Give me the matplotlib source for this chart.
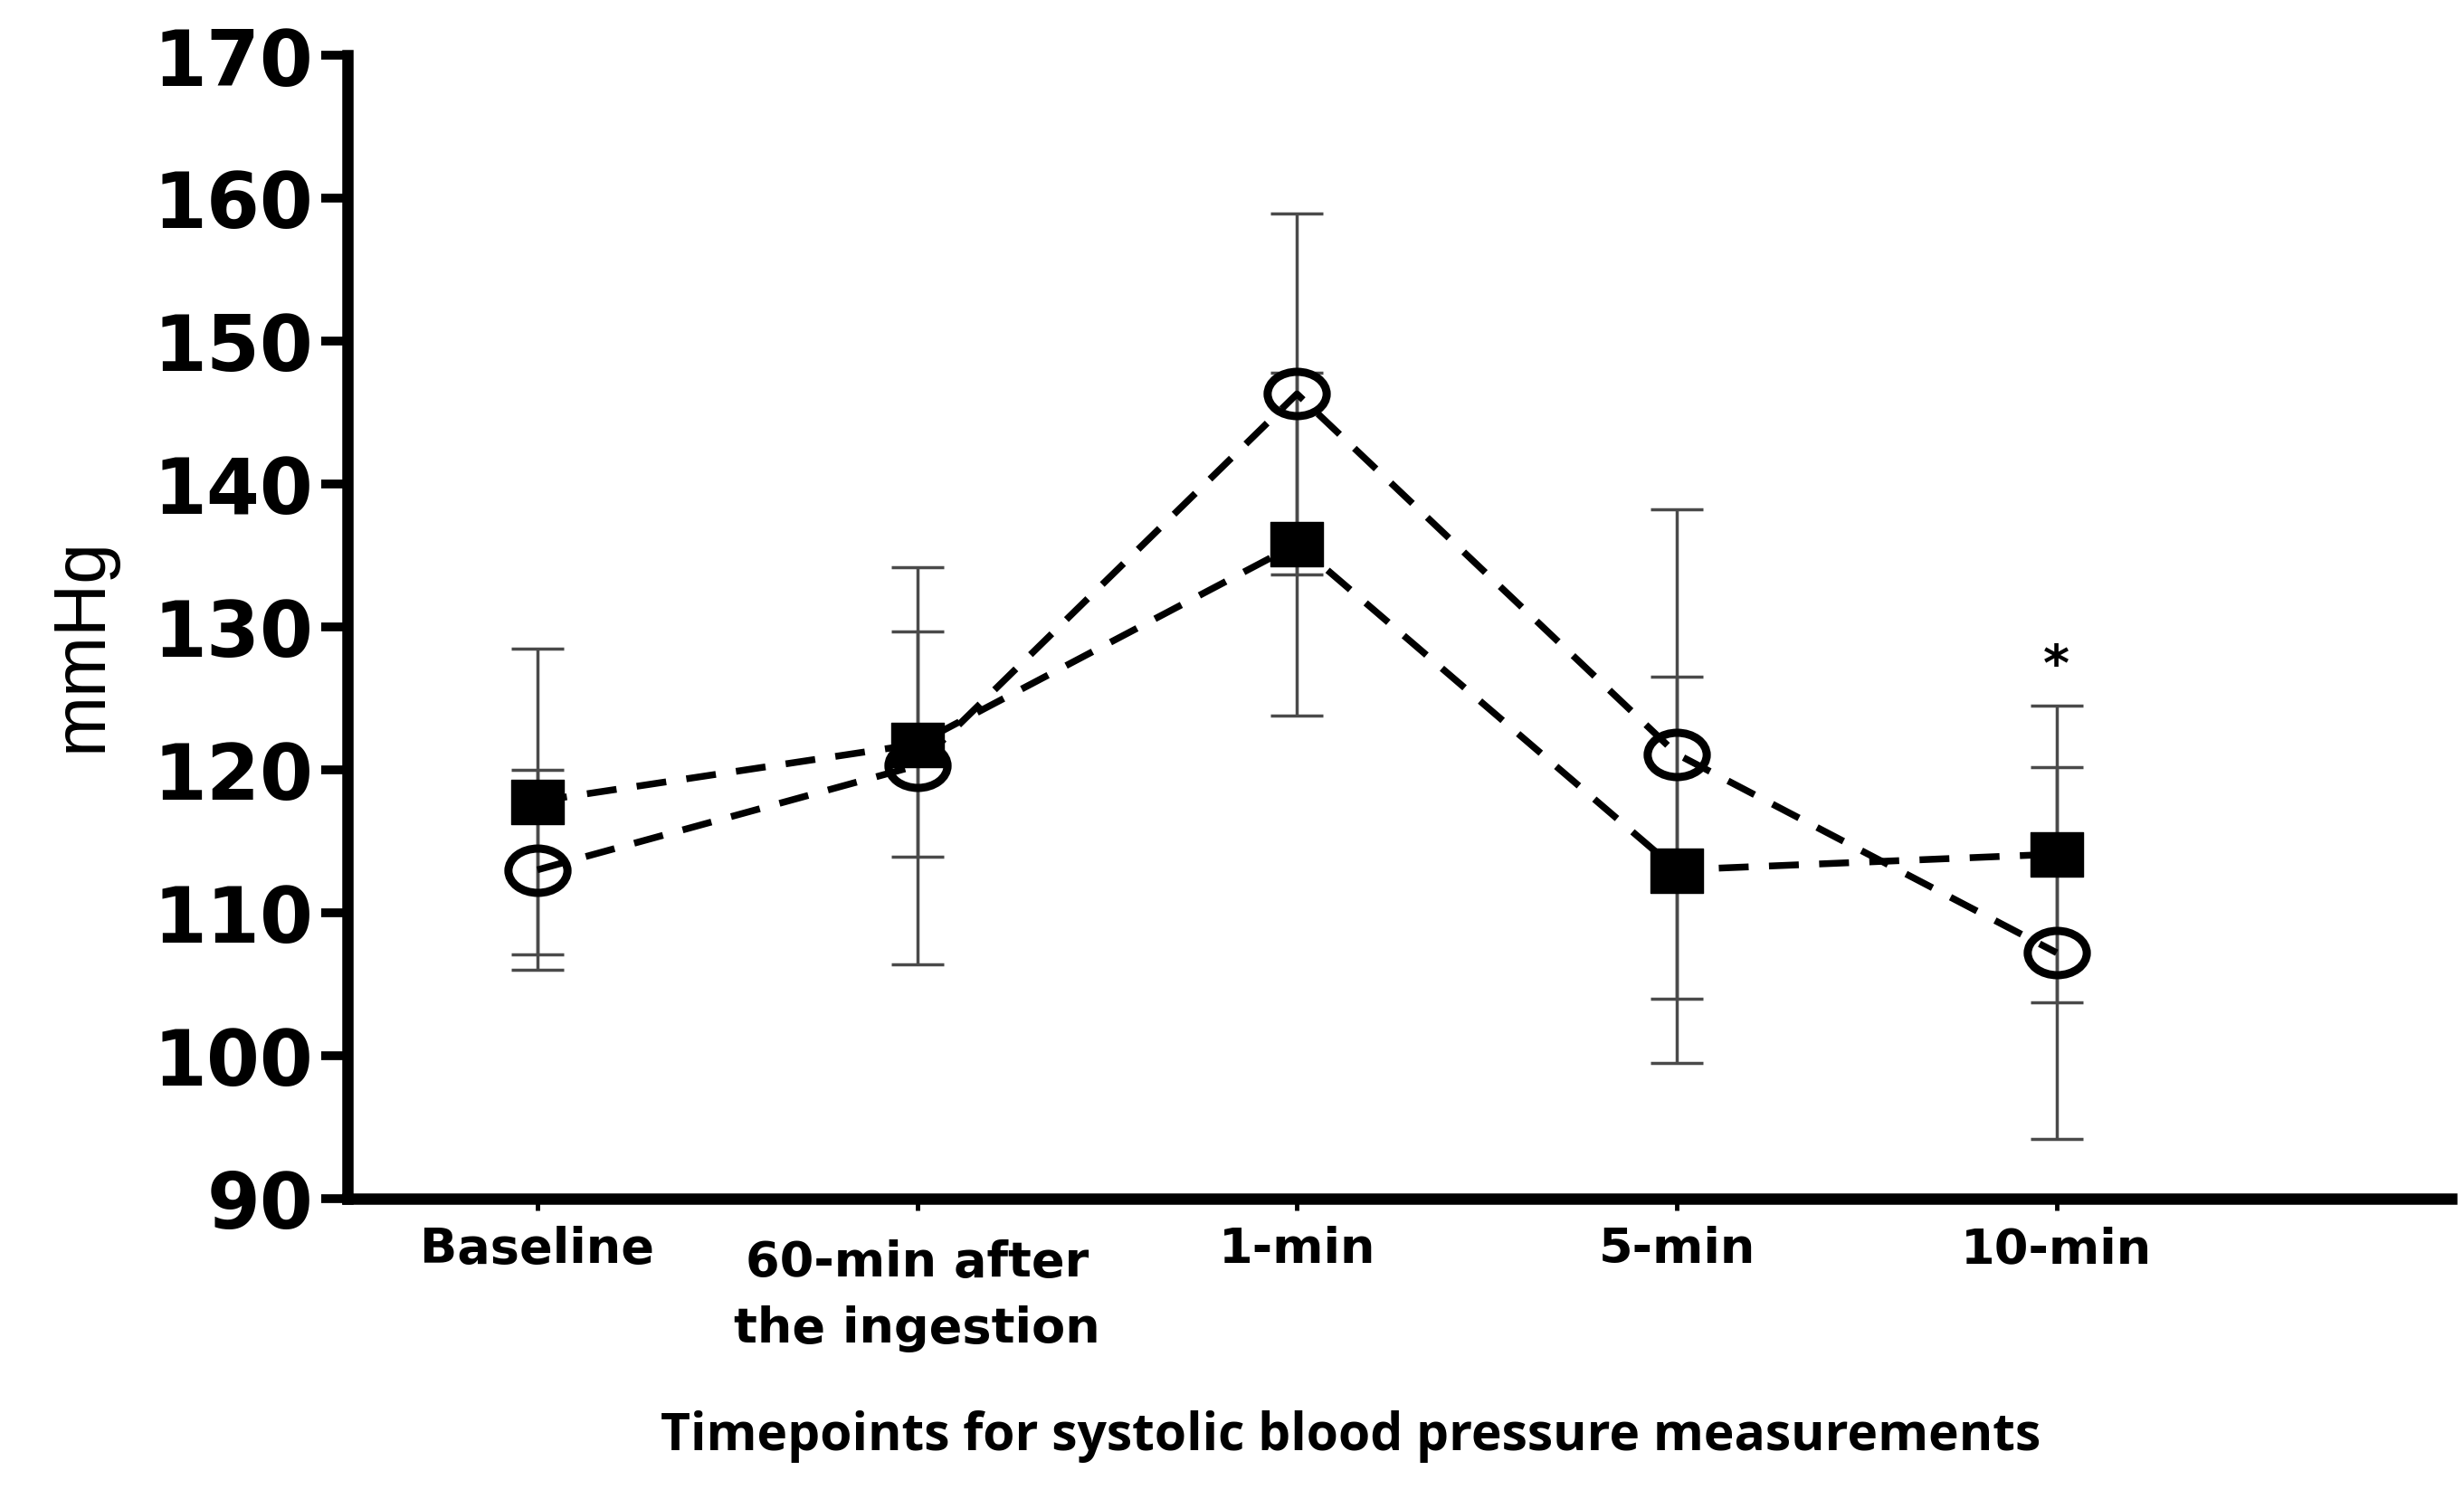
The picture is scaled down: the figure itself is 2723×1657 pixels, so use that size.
import numpy as np
import matplotlib
matplotlib.use('Agg')
import matplotlib.pyplot as plt
from matplotlib.path import Path
from matplotlib.transforms import Affine2D

# values (mean and SD, mmHg)
timepoints = ['Baseline', '60-min after\nthe ingestion', '1-min', '5-min', '10-min']
filled_mean = [117.8, 121.8, 135.8, 113.0, 114.1]
filled_sd = [10.7, 7.9, 12.0, 13.5, 10.4]
open_mean = [113.0, 120.3, 146.3, 121.1, 107.2]
open_sd = [7.0, 13.9, 12.6, 17.1, 13.0]
star_idx = 4
star_y = 126.3
yticks = [90, 100, 110, 120, 130, 140, 150, 160, 170]

# markers in the source are a bit wider than tall
sq_marker = Path([(-1, -0.84), (1, -0.84), (1, 0.84), (-1, 0.84), (-1, -0.84)],
                 [Path.MOVETO, Path.LINETO, Path.LINETO, Path.LINETO, Path.CLOSEPOLY])
circ_marker = Path.unit_circle().transformed(Affine2D().scale(1, 0.75))

fig = plt.figure(figsize=(27.23, 16.58), dpi=100)
ax = fig.add_axes([0.141, 0.2003, 0.854, 0.7623])
x = np.arange(len(timepoints))

err_kw = dict(fmt='none', ecolor='#4a4a4a', elinewidth=2.5, capsize=21, capthick=2.5, zorder=2)
ax.errorbar(x, open_mean, yerr=open_sd, **err_kw)
ax.errorbar(x, filled_mean, yerr=filled_sd, **err_kw)

ax.plot(x, open_mean, color='k', lw=5.4, ls='--', dashes=(4.4, 3), marker=circ_marker,
        ms=47, mfc='none', mec='k', mew=6.5, zorder=3)
ax.plot(x, filled_mean, color='k', lw=5.4, ls='--', dashes=(4.4, 3), marker=sq_marker,
        ms=42, mfc='k', mec='k', mew=1, zorder=4)

ax.text(x[star_idx], star_y, '*', ha='center', va='baseline', fontsize=40,
        fontweight='bold', family='DejaVu Sans', color='k')

ax.set_xlim(-0.5, 5.04)
ax.set_ylim(90, 170)
ax.set_yticks(yticks)
ax.set_xticks(x)
ax.set_xticklabels(timepoints, fontsize=39, fontweight='bold', family='DejaVu Sans',
                   linespacing=1.5)
for lab in ax.get_yticklabels():
    lab.set_fontsize(61)
    lab.set_fontweight('bold')
    lab.set_family('DejaVu Sans')
# the two-line label sits a little lower in the source
ax.get_xticklabels()[1].set_y(-0.012)

for s in ['top', 'right']:
    ax.spines[s].set_visible(False)
for s in ['left', 'bottom']:
    ax.spines[s].set_linewidth(9)
ax.tick_params(axis='y', length=21, width=7, pad=6)
ax.tick_params(axis='x', length=9, width=3.5, pad=12)

ax.set_ylabel('mmHg', fontsize=58, family='Liberation Sans', va='center')
ax.yaxis.set_label_coords(-0.126, 0.485)
ax.set_xlabel('Timepoints for systolic blood pressure measurements', fontsize=41,
              fontweight='bold', family=['Open Sans', 'DejaVu Sans'], va='center')
ax.xaxis.set_label_coords(0.4766, -0.207)

fig.savefig('out.png', dpi=100)
